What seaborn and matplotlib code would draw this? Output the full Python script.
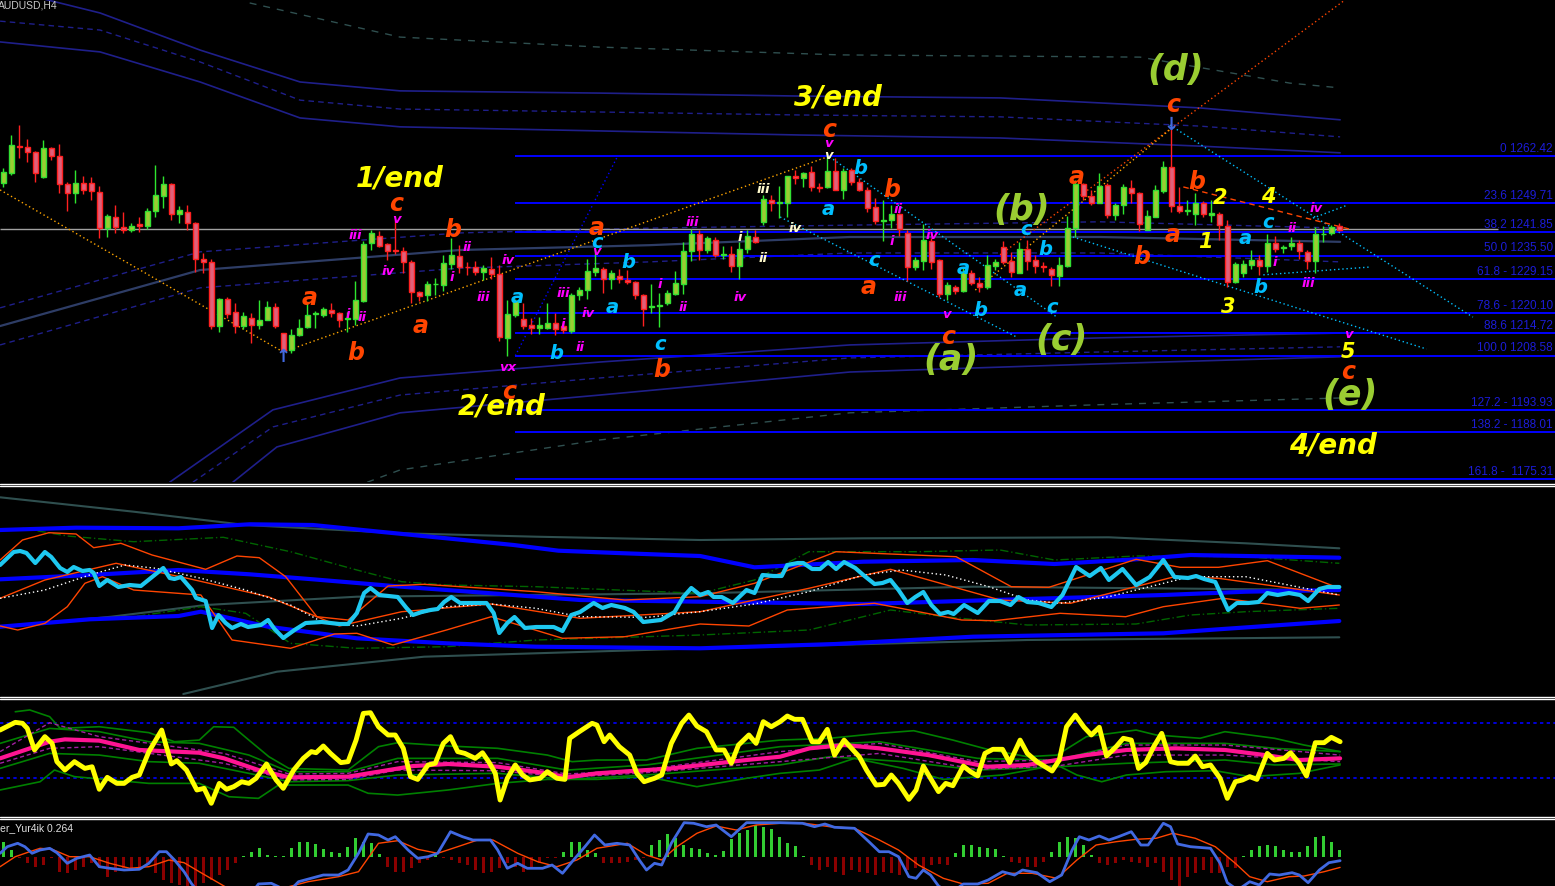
import numpy as np
import pandas as pd
import matplotlib.pyplot as plt
from matplotlib.lines import Line2D
import seaborn as sns

# Bougies AUDUSD H4
open_ = [1255.1, 1257.8, 1265.2, 1265.0, 1263.4, 1256.9, 1264.5, 1262.5, 1254.8, 1252.6,
         1255.2, 1255.2, 1252.8, 1243.1, 1246.1, 1243.4, 1242.4, 1244.0, 1243.6, 1247.7,
         1251.7, 1254.8, 1246.7, 1247.4, 1244.5, 1234.6, 1233.9, 1216.6, 1223.8, 1220.4,
         1216.6, 1218.9, 1217.0, 1218.3, 1221.6, 1214.6, 1210.2, 1214.1, 1216.4, 1219.8,
         1219.7, 1221.0, 1220.2, 1218.6, 1218.6, 1223.4, 1238.9, 1240.9, 1238.6, 1237.1,
         1236.8, 1233.9, 1225.8, 1224.9, 1227.8, 1227.6, 1233.3, 1235.4, 1232.6, 1232.4,
         1231.2, 1232.1, 1230.6, 1213.5, 1219.7, 1218.6, 1217.0, 1216.2, 1216.2, 1217.5,
         1216.5, 1215.3, 1225.1, 1226.3, 1231.2, 1232.1, 1229.3, 1230.0, 1229.1, 1228.5,
         1224.9, 1221.6, 1221.9, 1222.8, 1225.2, 1228.0, 1236.8, 1241.3, 1237.2, 1239.9,
         1235.8, 1235.9, 1232.8, 1237.5, 1240.7, 1244.7, 1250.6, 1249.8, 1249.7, 1257.0,
         1256.4, 1258.0, 1254.0, 1254.0, 1258.4, 1253.4, 1258.7, 1255.5, 1253.4, 1248.6,
         1245.0, 1245.3, 1246.7, 1241.7, 1232.4, 1234.0, 1239.5, 1234.4, 1225.2, 1227.0,
         1226.1, 1231.0, 1228.3, 1227.0, 1232.8, 1238.0, 1234.1, 1231.0, 1237.3, 1234.4,
         1232.9, 1232.1, 1230.1, 1232.8, 1242.9, 1254.9, 1251.6, 1249.9, 1254.6, 1246.5,
         1249.2, 1253.7, 1252.4, 1242.6, 1246.1, 1253.1, 1259.4, 1249.0, 1247.6, 1246.8,
         1249.8, 1246.5, 1246.8, 1243.6, 1228.5, 1231.0, 1233.0, 1234.4, 1232.8, 1239.1,
         1237.6, 1238.1, 1239.1, 1236.6, 1234.2, 1241.3, 1241.6, 1243.6]
high = [1259.1, 1268.1, 1270.8, 1267.0, 1263.8, 1266.8, 1265.0, 1265.6, 1255.5, 1258.7,
        1257.0, 1256.9, 1254.3, 1246.8, 1249.2, 1247.4, 1244.5, 1246.1, 1248.3, 1260.0,
        1257.0, 1255.1, 1249.0, 1249.2, 1244.7, 1236.2, 1234.6, 1224.2, 1224.5, 1222.9,
        1220.4, 1220.0, 1223.6, 1223.3, 1222.8, 1214.8, 1215.9, 1218.6, 1222.7, 1220.7,
        1221.8, 1222.7, 1220.4, 1220.4, 1228.7, 1239.5, 1242.5, 1242.3, 1238.9, 1245.2,
        1238.0, 1234.4, 1226.1, 1228.7, 1229.6, 1235.7, 1240.2, 1238.4, 1233.9, 1234.2,
        1233.0, 1235.3, 1233.0, 1223.6, 1224.0, 1222.7, 1218.9, 1219.0, 1222.7, 1220.0,
        1217.7, 1225.5, 1227.2, 1234.8, 1237.5, 1232.6, 1231.7, 1232.1, 1231.7, 1228.8,
        1225.3, 1227.9, 1225.5, 1226.3, 1231.5, 1239.3, 1242.7, 1242.5, 1241.0, 1240.5,
        1238.1, 1238.1, 1239.3, 1242.6, 1242.6, 1251.9, 1251.9, 1254.3, 1257.1, 1258.7,
        1258.0, 1259.7, 1255.2, 1263.3, 1261.8, 1259.1, 1259.1, 1256.6, 1254.2, 1251.0,
        1250.6, 1249.2, 1247.1, 1242.6, 1235.1, 1244.1, 1240.2, 1234.8, 1228.5, 1227.6,
        1232.6, 1231.7, 1229.9, 1235.7, 1234.8, 1239.5, 1236.6, 1239.3, 1239.8, 1235.7,
        1233.9, 1232.6, 1235.1, 1246.2, 1256.0, 1255.2, 1253.3, 1257.8, 1255.2, 1249.9,
        1254.9, 1256.1, 1252.8, 1248.0, 1254.6, 1261.2, 1271.3, 1254.2, 1250.7, 1252.4,
        1250.4, 1250.6, 1247.4, 1245.2, 1233.9, 1234.4, 1237.2, 1235.7, 1241.3, 1240.8,
        1238.4, 1240.7, 1239.8, 1237.1, 1243.4, 1243.5, 1243.8, 1244.3]
low = [1254.2, 1257.3, 1261.8, 1260.9, 1255.5, 1256.4, 1261.4, 1252.6, 1247.6, 1249.8,
       1252.1, 1250.7, 1240.4, 1240.7, 1241.8, 1241.8, 1242.0, 1242.0, 1242.7, 1246.1,
       1248.5, 1245.2, 1244.3, 1242.5, 1231.2, 1231.0, 1215.7, 1215.0, 1218.8, 1214.6,
       1215.9, 1211.9, 1215.9, 1218.2, 1216.1, 1209.6, 1209.4, 1213.9, 1216.2, 1216.2,
       1219.1, 1219.1, 1216.4, 1215.0, 1216.8, 1223.1, 1237.1, 1238.0, 1234.4, 1235.9,
       1230.8, 1222.7, 1223.4, 1223.3, 1224.9, 1226.1, 1232.1, 1230.8, 1230.3, 1230.3,
       1229.0, 1229.4, 1212.5, 1208.4, 1219.1, 1215.7, 1214.4, 1214.4, 1215.7, 1214.3,
       1214.6, 1214.6, 1223.5, 1224.0, 1230.0, 1225.4, 1226.7, 1228.2, 1227.9, 1224.0,
       1216.6, 1220.0, 1216.4, 1222.2, 1224.9, 1225.3, 1234.2, 1234.5, 1236.3, 1235.3,
       1234.8, 1231.2, 1229.2, 1236.3, 1239.0, 1243.8, 1247.6, 1245.6, 1245.9, 1254.9,
       1254.2, 1253.0, 1252.8, 1253.7, 1253.3, 1250.8, 1254.6, 1253.0, 1247.4, 1244.0,
       1239.5, 1242.9, 1240.8, 1228.8, 1231.8, 1231.8, 1232.1, 1224.3, 1223.7, 1225.2,
       1225.8, 1227.6, 1225.8, 1226.7, 1231.7, 1233.3, 1229.9, 1230.8, 1231.7, 1230.8,
       1231.2, 1227.3, 1227.4, 1232.6, 1240.7, 1250.7, 1249.2, 1249.7, 1245.6, 1245.3,
       1246.8, 1249.8, 1242.3, 1242.5, 1245.9, 1252.6, 1247.4, 1247.0, 1246.5, 1243.8,
       1245.9, 1244.7, 1239.9, 1227.2, 1228.1, 1229.7, 1232.1, 1230.3, 1231.2, 1236.6,
       1236.2, 1237.2, 1234.8, 1232.1, 1230.9, 1239.3, 1241.1, 1242.3]
close = [1258.0, 1265.4, 1265.0, 1263.4, 1257.8, 1264.5, 1262.5, 1254.8, 1252.4, 1255.2,
         1253.2, 1253.0, 1243.1, 1246.2, 1243.2, 1242.5, 1243.5, 1243.7, 1247.7, 1251.8,
         1254.8, 1246.7, 1248.0, 1244.5, 1234.8, 1233.9, 1216.6, 1223.8, 1219.8, 1216.6,
         1219.2, 1217.0, 1218.3, 1221.6, 1216.5, 1210.2, 1214.3, 1216.2, 1219.7, 1220.0,
         1221.3, 1220.2, 1218.3, 1218.8, 1223.6, 1238.6, 1241.8, 1238.2, 1236.9, 1236.8,
         1233.9, 1225.8, 1224.7, 1227.9, 1228.0, 1233.5, 1235.7, 1232.6, 1232.4, 1231.2,
         1232.3, 1230.6, 1213.7, 1219.8, 1223.3, 1216.6, 1216.2, 1216.8, 1217.5, 1215.7,
         1215.5, 1225.1, 1226.2, 1231.4, 1232.3, 1229.3, 1231.0, 1229.2, 1228.5, 1224.9,
         1221.3, 1221.9, 1222.2, 1225.4, 1228.3, 1236.8, 1241.3, 1237.2, 1240.2, 1235.7,
         1235.9, 1232.9, 1237.5, 1240.8, 1239.3, 1250.8, 1249.7, 1250.0, 1257.0, 1256.4,
         1257.8, 1254.0, 1253.8, 1258.4, 1253.4, 1258.4, 1255.3, 1253.4, 1248.3, 1245.0,
         1245.2, 1246.7, 1242.7, 1232.4, 1234.4, 1239.8, 1233.9, 1225.2, 1227.6, 1226.1,
         1231.2, 1228.2, 1227.0, 1233.0, 1233.8, 1233.9, 1231.2, 1237.3, 1234.2, 1232.8,
         1232.4, 1230.3, 1233.0, 1242.9, 1254.9, 1251.7, 1249.9, 1254.3, 1246.5, 1249.2,
         1254.0, 1252.4, 1244.1, 1246.2, 1253.3, 1259.4, 1249.0, 1247.7, 1247.8, 1249.9,
         1246.8, 1247.1, 1243.8, 1228.5, 1233.2, 1233.3, 1234.4, 1232.8, 1239.1, 1237.5,
         1237.8, 1239.1, 1236.9, 1234.2, 1241.3, 1241.5, 1243.2, 1242.6]

# Niveaux de Fibonacci
fib_levels = [1262.42, 1249.71, 1241.85, 1235.50, 1229.15, 1220.10, 1214.72,
              1208.58, 1193.93, 1188.01, 1175.31]
fib_labels = ['0 1262.42', '23.6 1249.71', '38.2 1241.85', '50.0 1235.50',
              '61.8 - 1229.15', '78.6 - 1220.10', '88.6 1214.72', '100.0 1208.58',
              '127.2 - 1193.93', '138.2 - 1188.01', '161.8 -  1175.31']
fib_start = 64
bid_price = 1242.7

# Enveloppes de moyennes mobiles (barre, prix)
env_top_x = [-0.4, 12.1, 24.6, 37.1, 49.6, 74.6, 99.6, 124.6, 149.6, 167.1]
env_top1 = [1307.7, 1301.0, 1291.0, 1282.4, 1280.0, 1279.4, 1278.6, 1278.1, 1275.4, 1272.2]
env_top2 = [1298.8, 1296.4, 1287.8, 1277.5, 1275.1, 1274.3, 1273.5, 1273.0, 1270.5, 1267.6]
env_top3 = [1293.2, 1290.5, 1282.4, 1272.7, 1270.3, 1269.2, 1268.1, 1267.3, 1265.1, 1263.3]
env_grey_x = [30.8, 49.6, 74.6, 104.6, 142.1, 160.8, 167.1]
env_grey = [1303.7, 1294.5, 1291.8, 1289.7, 1289.1, 1282.1, 1280.8]
env_mid_x = [-0.4, 24.6, 57.1, 80.8, 105.8, 137.1, 167.1]
env_mid_up = [1221.5, 1236.6, 1241.7, 1243.0, 1243.8, 1244.7, 1243.0]
env_mid = [1216.6, 1231.7, 1237.1, 1238.4, 1240.6, 1240.6, 1239.3]
env_mid_dn = [1211.5, 1226.9, 1232.2, 1233.9, 1236.3, 1236.3, 1233.9]
env_low_a_x = [20.8, 33.7, 49.6, 74.6, 105.8, 137.1, 167.1]
env_low_a = [1174.5, 1194.0, 1202.6, 1206.9, 1211.5, 1213.4, 1214.7]
env_low_b_x = [23.7, 33.7, 49.6, 74.6, 105.8, 137.1, 167.1]
env_low_b = [1174.5, 1189.4, 1198.0, 1202.6, 1208.0, 1209.6, 1211.0]
env_low_c_x = [28.7, 34.2, 49.6, 74.6, 105.8, 137.1, 167.1]
env_low_c = [1174.5, 1184.0, 1193.2, 1198.0, 1204.2, 1206.4, 1208.3]
env_low_g_x = [45.5, 49.6, 74.6, 105.8, 137.1, 167.1]
env_low_g = [1174.5, 1177.8, 1185.9, 1193.2, 1195.4, 1197.2]

# Lignes de tendance (x0, x1), (prix0, prix1)
trend_orange = ([-0.4, 35.0, 103.0], [1253.3, 1209.6, 1262.2])
trend_cyan = [((103.3, 131.7), (1262.2, 1219.0)), ((97.1, 126.7), (1246.0, 1213.6)),
              ((133.7, 177.9), (1240.6, 1210.4)), ((145.8, 183.7), (1270.8, 1219.0)),
              ((157.5, 170.8), (1230.4, 1232.5)), ((163.7, 168.0), (1245.7, 1249.2))]
trend_red = ((124.6, 167.7), (1235.8, 1304.5))
trend_orange2 = ((121.5, 145.8), (1226.3, 1269.5))
trend_red_dash = ((147.5, 168.7), (1254.1, 1242.5))
fib_diag = ((64.0, 76.8), (1208.58, 1262.42))

# Etiquettes Elliott (texte, barre, prix)
lbl_yellow = [('1/end', 49.5, 1256.5), ('2/end', 62.3, 1195.0), ('3/end', 104.3, 1278.3),
              ('4/end', 166.2, 1184.3)]
lbl_green = [('(d)', 146.5, 1285.6), ('(b)', 127.3, 1247.9), ('(a)', 118.5, 1207.4),
             ('(c)', 132.3, 1212.8), ('(e)', 168.3, 1198.0)]
lbl_orange = [('c', 49.1, 1249.4), ('a', 38.3, 1224.2), ('b', 44.1, 1209.3), ('b', 56.2, 1242.5),
              ('a', 52.2, 1216.6), ('c', 63.2, 1198.8), ('a', 74.2, 1243.0), ('b', 82.3, 1204.7),
              ('c', 103.2, 1269.4), ('b', 111.1, 1253.3), ('a', 108.1, 1227.1), ('c', 118.1, 1213.6),
              ('a', 134.2, 1256.8), ('c', 146.2, 1276.2), ('b', 149.2, 1255.4), ('a', 146.2, 1241.1),
              ('b', 142.3, 1235.2), ('c', 168.1, 1204.2)]
lbl_cyan = [('a', 64.2, 1224.4), ('c', 74.2, 1239.0), ('b', 78.1, 1233.6), ('a', 76.1, 1221.5),
            ('b', 69.2, 1209.3), ('c', 82.1, 1211.5), ('b', 107.1, 1259.2), ('a', 103.1, 1247.9),
            ('c', 108.9, 1234.4), ('a', 120.0, 1232.2), ('b', 122.1, 1220.9), ('c', 127.9, 1242.5),
            ('b', 130.2, 1237.1), ('a', 127.1, 1226.3), ('c', 131.1, 1221.5), ('a', 155.2, 1240.3),
            ('c', 158.1, 1244.6), ('b', 157.1, 1226.9)]
lbl_magenta = [('iii', 44.0, 1240.9), ('iv', 48.1, 1231.2), ('v', 49.2, 1245.4), ('ii', 44.8, 1219.0),
               ('i', 43.1, 1219.6), ('ii', 58.0, 1237.9), ('i', 56.1, 1229.6), ('iii', 60.0, 1224.2),
               ('iv', 63.1, 1234.4), ('vx', 63.1, 1205.3), ('iii', 70.0, 1225.5), ('iv', 73.1, 1220.1),
               ('i', 70.0, 1216.9), ('ii', 72.1, 1210.9), ('v', 74.2, 1236.6), ('iii', 86.1, 1244.6),
               ('i', 82.1, 1227.7), ('ii', 85.0, 1221.5), ('iv', 92.1, 1224.4), ('v', 103.1, 1265.9),
               ('ii', 111.8, 1247.9), ('i', 111.1, 1239.3), ('iii', 112.1, 1224.4), ('iv', 116.1, 1241.1),
               ('v', 117.9, 1219.6), ('ii', 161.1, 1243.0), ('i', 158.9, 1233.6), ('iii', 163.1, 1228.2),
               ('iv', 164.1, 1248.2), ('v', 168.1, 1214.2)]
lbl_white = [('iii', 95.0, 1253.3), ('iv', 99.0, 1243.0), ('i', 92.1, 1240.6), ('ii', 95.0, 1234.9),
             ('v', 103.1, 1262.5)]
lbl_numbers = [('1', 150.2, 1239.3), ('2', 152.1, 1251.1), ('3', 153.1, 1221.7), ('4', 158.1, 1251.4),
               ('5', 168.1, 1209.6)]
arrow_up = (35.0, 1208.3)
arrow_dn = (146.0, 1270.8)

# Indicateur 1 (fenetre 2)
p2_cyan_x = [-0.4, 1.3, 2.1, 2.9, 4.0, 5.2, 6.0, 7.1, 8.0, 8.8, 9.9, 10.8, 11.3, 12.0, 13.0, 14.4,
             15.8, 17.2, 18.6, 20.0, 20.8, 21.4, 22.2, 23.6, 24.1, 25.3, 26.1, 26.9, 27.8, 28.6,
             29.7, 30.6, 31.4, 32.2, 33.1, 33.9, 35.0, 36.4, 37.8, 39.8, 42.0, 43.1, 44.2, 45.1,
             45.9, 47.0, 49.3, 50.4, 51.2, 52.3, 53.4, 54.3, 55.1, 56.0, 57.1, 58.7, 60.4, 61.3,
             62.0, 63.0, 63.9, 65.2, 66.6, 67.7, 68.8, 69.9, 71.0, 72.1, 73.8, 74.9, 76.0, 77.7,
             78.8, 80.0, 82.2, 83.9, 85.0, 86.0, 87.1, 88.1, 88.8, 89.8, 91.2, 92.9, 93.9, 94.9,
             96.3, 97.3, 98.0, 99.3, 100.0, 101.1, 102.1, 103.1, 104.1, 105.1, 106.5, 107.5, 108.9,
             109.9, 110.9, 111.9, 113.0, 114.0, 115.0, 116.0, 117.1, 118.1, 118.8, 120.1, 121.8,
             123.2, 124.6, 125.9, 126.9, 128.0, 129.4, 131.0, 132.4, 134.1, 135.8, 137.2, 138.2,
             139.9, 141.6, 143.3, 145.0, 146.4, 148.1, 149.1, 150.1, 151.5, 153.1, 154.2, 155.6,
             156.9, 158.0, 159.3, 160.7, 162.1, 163.1, 164.5, 165.5, 167.0]
p2_cyan = [130, 143, 144, 142, 132, 143, 138, 127, 123, 128, 124, 125, 122, 109, 115, 108, 110, 109,
           118, 127, 117, 116, 118, 105, 97, 94, 67, 80, 72, 67, 71, 68, 69, 70, 75, 66, 57, 65, 72, 73,
           71, 71, 82, 102, 107, 100, 98, 87, 80, 83, 85, 86, 93, 98, 92, 92, 92, 82, 62, 72, 78, 67,
           68, 68, 68, 64, 80, 83, 92, 87, 90, 87, 83, 73, 75, 83, 98, 107, 100, 103, 98, 98, 92, 105,
           102, 120, 119, 119, 130, 132, 132, 126, 126, 133, 126, 133, 127, 120, 111, 112, 115, 105,
           92, 98, 103, 90, 81, 83, 81, 90, 82, 94, 94, 90, 98, 93, 92, 88, 100, 128, 119, 127, 115,
           126, 110, 118, 135, 118, 117, 119, 116, 113, 85, 92, 92, 93, 102, 100, 102, 100, 94, 106,
           108, 108]
p2_blue_up_x = [-0.4, 9.1, 21.9, 30.8, 38.7, 47.0, 55.4, 63.8, 69.4, 77.7, 87.1, 93.9, 107.5, 121.2,
                131.4, 141.6, 148.4, 155.3, 167.0]
p2_blue_up = [165, 167.3, 166.7, 170.7, 170, 163.3, 156.7, 150, 144.3, 141.7, 139, 127.7, 133.3, 135,
              131, 135.7, 140, 139, 137.3]
p2_blue_mid_x = [-0.4, 10.8, 21.9, 30.8, 38.7, 49.8, 61.0, 72.1, 87.1, 107.5, 128.0, 145.0, 155.3, 167.0]
p2_blue_mid = [115.7, 120, 125, 120.7, 115.7, 108.3, 101.7, 95, 93.3, 91, 96, 100, 103.3, 105]
p2_blue_dn_x = [-0.4, 10.8, 21.9, 24.7, 33.1, 44.2, 55.4, 66.6, 87.1, 104.1, 121.2, 145.0, 151.9, 167.0]
p2_blue_dn = [68.3, 75.7, 79, 83.3, 68.3, 56.7, 51.7, 48.3, 46.7, 51, 58.3, 61.7, 65.7, 74]
p2_grey_up_x = [-0.4, 16.3, 30.3, 49.8, 66.6, 87.1, 107.5, 138.2, 155.3, 167.0]
p2_grey_up = [197.7, 183.3, 170, 161.7, 158.3, 155, 156.7, 157.7, 151.7, 146.7]
p2_grey_mid_x = [-0.4, 13.5, 25.3, 44.2, 87.1, 121.2, 167.0]
p2_grey_mid = [67.7, 78.3, 90, 98.3, 101.7, 108.3, 105]
p2_grey_dn_x = [22.5, 34.2, 52.6, 87.1, 128.0, 167.0]
p2_grey_dn = [1, 23.3, 38.3, 46.7, 55, 57.7]
p2_or_mid_x = [-0.4, 5.2, 14.1, 23.0, 33.1, 42.0, 49.8, 61.0, 72.1, 87.1, 100.7, 110.9, 124.6, 133.4,
               146.4, 151.9, 167.0]
p2_or_mid = [96.7, 115, 131.7, 116.7, 98.3, 69, 83.3, 91, 76.7, 83.3, 106.7, 125.7, 95, 91.7, 118.3,
             116.7, 100]
p2_or_up_x = [-0.4, 2.4, 5.7, 9.1, 11.3, 14.7, 18.6, 25.3, 29.2, 32.0, 35.3, 39.2, 43.1, 48.1, 52.6,
              66.6, 77.7, 87.1, 93.9, 104.1, 110.9, 119.1, 126.0, 130.7, 141.6, 147.1, 151.9, 158.0, 167.0]
p2_or_up = [135, 155, 162.3, 161, 147.3, 151.7, 140, 125.7, 139, 137.3, 118.3, 78.3, 75, 109, 110.7,
            103.3, 95, 98.3, 111.7, 143.3, 141, 138.3, 108.3, 107.7, 135.7, 127.7, 127.7, 134.3, 106.7]
p2_or_dn_x = [-0.4, 1.8, 5.2, 8.0, 10.2, 12.4, 16.3, 24.7, 28.6, 35.9, 41.4, 44.2, 48.7, 55.4, 61.0,
              69.9, 77.7, 87.1, 93.2, 98.0, 108.9, 119.8, 123.9, 132.1, 140.3, 145.0, 152.5, 162.1, 167.0]
p2_or_dn = [69, 65, 71.7, 88.3, 111.7, 118.3, 105, 100, 55, 46.7, 61, 61.7, 50, 65, 78.3, 56.7, 58.3,
            71, 69, 85, 91.7, 75, 74.3, 81.7, 78.3, 88.3, 96.7, 86.7, 90]
p2_white_x = [-0.4, 5.2, 10.8, 15.2, 19.1, 24.7, 30.3, 35.9, 39.8, 44.2, 49.8, 55.4, 61.0, 66.6, 72.1,
              80.5, 87.1, 93.9, 100.7, 107.5, 112.3, 117.8, 123.2, 128.0, 132.1, 138.2, 145.0, 148.4,
              155.3, 162.1, 167.0]
p2_white = [96.7, 105, 120, 130, 126.7, 116.7, 105, 90, 73.3, 69, 76.7, 88.3, 91, 86.7, 78.3, 77.7,
            83.3, 91, 103.3, 120, 125, 120, 108.3, 95, 91.7, 98.3, 111.7, 118.3, 118.3, 107.7, 100]
p2_green_up_x = [2.4, 8.0, 16.3, 27.5, 35.9, 44.2, 49.8, 55.4, 66.6, 87.1, 93.9, 100.7, 114.4, 124.6,
                 131.4, 141.6, 155.3, 167.0]
p2_green_up = [166.7, 159, 153.3, 157.7, 143.3, 125, 113.3, 110, 108.3, 101.7, 115, 143.3, 143.3, 145,
               135, 139, 138.3, 131.7]
p2_green_dn_x = [-0.4, 5.2, 16.3, 24.7, 30.3, 35.9, 44.2, 55.4, 66.6, 87.1, 100.7, 110.9, 117.8, 128.0,
                 141.6, 148.4, 155.3, 167.0]
p2_green_dn = [68.3, 71.7, 78.3, 88.3, 81.7, 51.7, 46.7, 48.3, 55, 60, 65, 85, 78.3, 70, 71, 80, 83.3,
               86.7]

# Indicateur 2 (fenetre 3, type RSI)
p3_levels = [70, 30]
p3_yellow_x = [-0.4, 1.5, 2.4, 3.0, 3.9, 5.2, 6.1, 6.7, 7.7, 8.9, 10.2, 11.1, 12.0, 13.0, 14.2, 15.1,
               16.1, 17.0, 18.2, 19.8, 21.0, 21.7, 22.9, 24.2, 25.1, 26.0, 27.0, 27.9, 28.8, 29.8,
               30.7, 31.6, 32.9, 34.1, 35.0, 36.3, 37.5, 38.5, 39.1, 40.0, 40.9, 42.2, 43.1, 44.1,
               45.0, 45.9, 46.9, 48.1, 49.0, 50.0, 50.9, 51.8, 53.1, 54.0, 55.0, 55.9, 56.8, 57.7,
               59.0, 59.9, 60.8, 61.5, 62.1, 63.0, 64.0, 64.9, 65.8, 67.1, 68.0, 69.2, 70.2, 70.8,
               72.0, 73.6, 74.2, 75.1, 75.8, 77.0, 78.3, 79.2, 80.1, 81.4, 82.3, 83.5, 84.8, 85.7,
               86.7, 87.9, 89.1, 90.1, 91.0, 91.9, 93.2, 94.1, 95.0, 96.0, 97.1, 98.0, 98.9, 99.9,
               101.1, 102.0, 103.0, 103.9, 105.1, 106.4, 107.0, 107.9, 109.1, 110.1, 111.0, 111.9,
               113.2, 114.1, 115.0, 115.9, 116.9, 117.8, 118.7, 120.0, 120.9, 121.8, 122.7, 123.7,
               124.9, 125.8, 127.1, 128.0, 129.2, 131.1, 132.0, 132.9, 134.0, 135.1, 136.0, 137.0,
               137.9, 139.1, 140.0, 141.0, 141.9, 142.8, 143.8, 144.8, 145.9, 146.8, 148.1, 149.0,
               149.9, 150.9, 152.1, 153.0, 154.0, 154.9, 155.8, 156.7, 158.0, 158.9, 160.1, 160.9,
               162.0, 162.9, 164.0, 165.1, 166.0, 167.1]
p3_yellow = [65.1, 70.7, 70.0, 66.3, 50.6, 60.3, 55.4, 42.1, 36.0, 42.1, 37.2, 38.4, 22.0, 30.7, 26.3,
             26.3, 30.7, 32.4, 49.4, 65.1, 40.4, 42.8, 36.0, 21.5, 22.7, 11.8, 26.3, 22.0, 23.9, 27.5,
             26.3, 30.0, 40.4, 28.8, 22.7, 36.0, 44.5, 49.4, 48.6, 53.5, 48.1, 41.4, 42.1, 57.8, 77.2,
             77.7, 67.5, 61.5, 61.5, 51.8, 31.2, 29.2, 39.7, 40.9, 55.4, 60.3, 49.4, 48.1, 44.5, 48.6,
             40.9, 33.6, 14.2, 30.0, 39.7, 32.4, 28.8, 30.0, 34.8, 30.0, 29.2, 59.1, 63.9, 70.0, 68.7,
             56.6, 61.5, 53.0, 46.9, 33.6, 27.5, 30.0, 32.4, 55.4, 70.0, 76.0, 68.0, 63.9, 50.6, 50.6,
             40.9, 54.2, 61.5, 55.4, 71.2, 67.5, 71.2, 75.3, 72.9, 72.9, 56.6, 56.6, 65.6, 46.9, 57.8,
             49.4, 45.7, 36.0, 25.1, 25.6, 32.4, 26.3, 14.7, 21.5, 38.9, 30.0, 20.3, 26.3, 24.6, 38.9,
             34.8, 31.7, 48.1, 51.1, 51.1, 41.4, 57.8, 48.1, 42.1, 35.3, 43.3, 67.5, 76.0, 67.1, 61.5,
             67.1, 46.2, 53.0, 59.1, 57.8, 37.2, 41.4, 53.0, 62.7, 42.1, 40.9, 40.9, 46.2, 38.4, 39.7,
             30.0, 15.4, 27.5, 28.8, 31.2, 29.2, 48.1, 43.3, 44.5, 48.6, 40.9, 31.7, 55.9, 55.9, 59.8,
             56.6]
p3_pink_x = [-0.4, 5.8, 7.7, 12.0, 17.0, 24.5, 27.6, 31.9, 35.7, 43.1, 46.9, 51.2, 55.6, 61.8, 68.0,
             70.5, 74.2, 83.5, 92.9, 97.1, 100.8, 105.1, 109.5, 115.6, 123.0, 128.0, 135.4, 140.4,
             146.5, 152.7, 157.7, 162.0, 167.1]
p3_pink = [44.5, 56.6, 58.3, 57.4, 50.6, 48.6, 44.5, 36.0, 30.7, 31.2, 34.8, 38.9, 40.4, 38.4, 33.6,
           30.7, 33.6, 37.2, 43.3, 45.7, 51.8, 54.2, 51.8, 46.9, 38.4, 39.7, 46.9, 50.6, 51.8, 50.6,
           46.9, 43.3, 44.5]
p3_gup_x = [1.5, 3.3, 5.8, 7.1, 12.0, 18.2, 21.4, 24.5, 26.3, 28.8, 30.7, 33.2, 35.7, 43.1, 46.9, 49.3,
            55.6, 61.8, 68.0, 71.1, 74.2, 80.4, 86.7, 92.9, 97.1, 103.3, 109.5, 113.8, 118.7, 123.0,
            128.0, 131.7, 135.4, 141.6, 144.1, 149.6, 152.7, 158.9, 162.6, 167.1]
p3_gup = [78.4, 79.7, 74.8, 66.3, 67.5, 63.2, 56.6, 57.8, 67.5, 67.1, 57.8, 45.7, 37.2, 36.0, 53.0,
          55.9, 53.5, 51.8, 46.9, 42.1, 43.3, 43.3, 51.8, 55.4, 57.8, 59.1, 62.7, 64.6, 57.8, 51.1,
          45.7, 46.9, 60.3, 65.1, 61.5, 59.1, 63.9, 59.1, 54.2, 49.4]
p3_gdn_x = [-0.4, 4.6, 6.4, 8.9, 18.2, 24.5, 28.2, 31.9, 34.4, 43.1, 45.6, 49.3, 55.6, 61.8, 68.0,
            74.2, 80.4, 86.7, 92.9, 97.1, 102.0, 106.4, 112.5, 117.5, 124.9, 131.7, 134.2, 137.3,
            140.4, 145.3, 151.5, 155.8, 162.0, 167.1]
p3_gdn = [21.5, 27.5, 36.0, 31.2, 26.3, 26.3, 16.6, 15.4, 25.1, 25.1, 19.1, 17.8, 21.5, 26.3, 29.2,
          29.2, 31.2, 23.9, 30.0, 33.6, 36.0, 44.5, 37.2, 29.2, 32.4, 39.7, 32.4, 27.5, 32.4, 34.8,
          35.5, 31.2, 33.6, 39.7]
p3_gin_up_x = [-0.4, 5.8, 12.0, 18.2, 24.5, 30.7, 35.7, 43.1, 49.3, 61.8, 70.5, 80.4, 97.1, 109.5,
               121.8, 131.7, 140.4, 152.7, 158.9, 167.1]
p3_gin_up = [55.4, 66.3, 63.9, 56.6, 55.4, 46.9, 34.8, 34.8, 44.5, 44.5, 36.0, 39.7, 53.0, 56.6, 44.5,
             43.3, 55.4, 55.4, 51.8, 49.4]
p3_gin_dn_x = [-0.4, 5.8, 12.0, 18.2, 24.5, 30.7, 35.7, 43.1, 49.3, 61.8, 70.5, 80.4, 97.1, 103.3,
               112.5, 121.8, 131.7, 140.4, 152.7, 158.9, 167.1]
p3_gin_dn = [37.2, 48.1, 46.9, 42.1, 40.9, 33.6, 27.5, 28.3, 32.4, 33.6, 29.2, 32.4, 39.7, 45.7, 42.1,
             36.0, 38.4, 40.9, 43.3, 39.7, 40.4]
p3_mag_x = [-0.4, 5.8, 12.0, 21.4, 27.6, 35.7, 43.1, 49.3, 61.8, 70.5, 80.4, 97.1, 109.5, 121.8, 131.7,
            140.4, 152.7, 167.1]
p3_mag_up = [49.4, 70.4, 60.3, 53.0, 48.1, 33.1, 33.6, 42.1, 41.4, 33.1, 36.5, 49.4, 55.4, 42.1, 43.3,
             54.2, 54.2, 46.9]
p3_mag_dn = [40.9, 51.8, 53.0, 45.7, 40.9, 28.8, 29.2, 36.0, 35.5, 30.7, 34.1, 42.1, 48.1, 36.5, 38.9,
             46.9, 46.9, 42.1]

# Indicateur 3 (fenetre 4, histogramme + lignes)
p4_hist = [15, 6.7, -1.7, -6, -10, -8.3, -1.7, -15, -16, -13.3,
           -10, -6.7, -11.7, -20, -15, -11.7, -13.3, -11.7, -6.7, -16.7,
           -23.3, -26.7, -28.3, -29.3, -29.3, -26.7, -23.3, -18.3, -13.3, -6.7,
           0.7, 5, 8.3, 1.7, 0.7, 0.7, 8.3, 15, 15, 12.7,
           7.3, 5, 3.3, 10, 18.3, 15, 13.3, 2.7, -10, -15,
           -15, -11.7, -6.7, -3.3, 2.7, -1.7, -3.3, -6.7, -8.3, -13.3,
           -16, -15, -11.7, -6.7, -10, -15, -10, -6.7, -1.7, -1,
           5, 15, 15, 6.7, 3.3, -6.7, -6.7, -6.7, -5, -3.3,
           -1.7, 11.7, 16.7, 22.7, 18.3, 11.7, 8.3, 7.3, 3.3, 1.7,
           6, 17.3, 23.3, 26.7, 31.7, 30, 27.3, 20, 14, 10.7,
           0.5, -8.3, -13.3, -10, -15, -18.3, -13.3, -15, -16.7, -18.3,
           -15, -16.7, -18.3, -13.3, -11.7, -13.3, -8.3, -7.3, -8.3, 3.3,
           11.7, 11.7, 10, 8.3, 7.3, 0.7, -5, -6.7, -10, -10,
           -5, 5, 15, 20, 18.3, 11.7, 1.7, -6.7, -8.3, -6.7,
           -3.3, -5, -6.7, -10, -6.7, -15, -23.3, -29.3, -20, -16.7,
           -13.3, -16.7, -16.7, -10, -11.7, 0.3, 6.7, 10.7, 11.7, 10.7,
           6.7, 5, 5, 10.7, 19.3, 20.7, 15, 6.7]
p4_blue_x = [-0.4, 0.5, 1.8, 2.7, 3.6, 4.6, 5.8, 6.7, 8.0, 9.2, 10.8, 12.0, 13.3, 15.1, 17.0, 18.2,
             19.5, 20.4, 21.4, 22.6, 23.5, 24.5, 27.0, 30.7, 31.9, 33.5, 34.4, 35.7, 36.9, 40.0, 41.9,
             43.1, 44.4, 45.6, 46.9, 48.1, 49.0, 50.6, 51.8, 53.1, 54.3, 55.9, 57.4, 58.7, 60.9, 61.8,
             63.0, 64.3, 65.5, 67.4, 68.6, 69.9, 71.1, 72.7, 73.9, 75.2, 76.7, 78.3, 79.5, 80.4, 81.4,
             82.3, 83.5, 85.1, 86.3, 87.9, 89.1, 91.0, 92.9, 97.1, 99.9, 101.4, 102.7, 103.9, 106.4,
             108.2, 109.5, 110.7, 111.9, 113.2, 114.1, 115.0, 115.9, 116.9, 118.4, 120.0, 121.8,
             123.1, 124.9, 126.4, 127.4, 129.2, 130.8, 132.3, 133.6, 134.5, 135.7, 137.0, 138.2,
             139.4, 141.0, 142.2, 143.1, 145.0, 145.9, 146.8, 148.4, 150.9, 152.1, 153.0, 154.3,
             155.8, 157.0, 158.3, 159.5, 161.1, 162.0, 163.1, 164.5, 165.7, 167.1]
p4_blue = [3.4, 10, 13.4, 10, 3.4, 6.7, 8.4, 4.0, -6.6, -1.6, 1.7, -10, -11.6, -13.3, -12.6, -6.6, 5.0,
           5.0, -3.3, -15, -26.6, -36.6, -46.6, -40, -27.3, -26.6, -30, -35, -25, -18.3, -18.3, -13.3,
           3.4, 22.7, 21.7, 16.7, 20, 6.7, -1.6, 0, 3.4, 25, 20, 16.7, 16.7, 6.7, -11.6, -6.6, -11.6,
           -11.6, -8.3, -16.6, -5, 10, 21.7, 11.7, 13.4, 11.7, -3.3, -13.3, -6.6, -8.3, 13.4, 34, 33.4,
           30, 31.7, 20, 34, 34, 33.4, 30, 32.7, 29.4, 28.4, 15, 5, 5, 0, -20, -21.6, -13.3, -18.3,
           -29.3, -36.6, -27.3, -27.3, -23.3, -15, -18.3, -13.3, -16, -25, -18.3, 6.7, 20, 16.7, 20.7,
           16.7, 20, 25, 11.7, 11.7, 33.4, 30, 12.7, 10, 8.4, -6.6, -26, -33.3, -25, -28.3, -17.3,
           -18.3, -16, -18.3, -26, -13.3, -6, -4]
p4_orange_x = [-0.4, 1.5, 3.3, 4.6, 6.1, 8.3, 10.8, 13.3, 15.8, 18.2, 20.7, 22.6, 24.5, 27.0, 28.8,
               35.7, 38.1, 41.9, 44.4, 46.9, 49.3, 51.8, 54.3, 56.8, 59.3, 61.2, 64.3, 66.8, 69.2,
               71.7, 74.2, 78.0, 80.4, 82.3, 84.2, 86.7, 89.1, 91.6, 94.1, 97.1, 100.2, 103.3, 106.4,
               109.5, 111.9, 114.4, 117.5, 120.0, 123.1, 125.5, 128.6, 131.7, 134.2, 136.6, 139.1,
               141.6, 144.1, 146.2, 149.0, 151.5, 154.0, 155.8, 158.0, 160.7, 162.6, 165.1, 167.1]
p4_orange = [-10, 0, 5, 8.4, 7.4, 0, 0, -6.6, -11.6, -10, -3.3, -6, -15, -26.6, -35, -30, -25, -20,
             -15, 13.4, 16, 7.4, 3.4, 10, 16.7, 16.7, 3.4, -5, -10, -3.3, 8.4, 13.4, 1.7, -3.3, 10,
             23.4, 30.7, 26.7, 31.7, 33.4, 33.4, 30, 28.4, 16.7, 6.7, -8.3, -21.6, -27.3, -26.6,
             -16.6, -16.6, -21.6, -3.3, 11.7, 15, 17.4, 18.4, 23.4, 18.4, 10, -6.6, -20, -25, -20,
             -19.3, -15, -10.7]

# Style general : fond noir facon MetaTrader
sns.set_theme(style="dark", rc={"axes.facecolor": "black", "figure.facecolor": "black",
                                "savefig.facecolor": "black", "axes.grid": False})
plt.rcParams['font.family'] = ['DejaVu Sans']

fig = plt.figure(figsize=(15.55, 8.86), dpi=100)
H = 886.0
XLIM = (-0.41, 193.96)


def add_panel(top, bottom, ylim):
    ax = fig.add_axes([0, 1 - bottom / H, 1, (bottom - top) / H])
    ax.set_facecolor('black')
    ax.set_xlim(*XLIM)
    ax.set_ylim(*ylim)
    ax.set_xticks([])
    ax.set_yticks([])
    for s in ax.spines.values():
        s.set_visible(False)
    return ax


def trace(ax, x, y, color, lw=1.0, ls='-', z=2):
    sns.lineplot(x=x, y=y, ax=ax, color=color, linewidth=lw, linestyle=ls,
                 estimator=None, sort=False, zorder=z)


ax1 = add_panel(0, 482, (1174.55, 1304.5))
ax2 = add_panel(487, 695, (0, 208))
ax3 = add_panel(699, 816, (2.58, 87.67))
ax4 = add_panel(820, 886, (-29.3, 36.7))

# ---- Fenetre principale ----
navy = '#1f1f8a'
trace(ax1, env_top_x, env_top1, navy, 1.2)
trace(ax1, env_top_x, env_top2, navy, 1.0, (0, (4, 3)))
trace(ax1, env_top_x, env_top3, navy, 1.2)
trace(ax1, env_grey_x, env_grey, '#2f4f4f', 1.0, (0, (5, 5)))
trace(ax1, env_mid_x, env_mid_up, navy, 1.0, (0, (4, 3)))
trace(ax1, env_mid_x, env_mid, '#2e3d66', 1.6)
trace(ax1, env_mid_x, env_mid_dn, navy, 1.0, (0, (4, 3)))
trace(ax1, env_low_a_x, env_low_a, navy, 1.2)
trace(ax1, env_low_b_x, env_low_b, navy, 1.0, (0, (4, 3)))
trace(ax1, env_low_c_x, env_low_c, navy, 1.2)
trace(ax1, env_low_g_x, env_low_g, '#2f4f4f', 1.0, (0, (5, 5)))

ax1.hlines(fib_levels, fib_start, XLIM[1], colors='#0000ff', linewidth=1.4, zorder=2)
for lvl, txt in zip(fib_levels, fib_labels):
    ax1.text(193.7, lvl + 0.4, txt, color='#1c1cd8', fontsize=8.5, ha='right', va='bottom',
             family=['Liberation Sans', 'DejaVu Sans'], zorder=2)
ax1.hlines(bid_price, XLIM[0], 186.8, colors='#a0a0a0', linewidth=1.0, zorder=2)

dot = (0, (1, 2))
trace(ax1, trend_orange[0], trend_orange[1], '#ffa500', 1.0, dot)
for xs, ys in trend_cyan:
    trace(ax1, list(xs), list(ys), '#00bfff', 1.0, dot)
trace(ax1, list(trend_red[0]), list(trend_red[1]), '#ff4500', 1.0, dot)
trace(ax1, list(trend_orange2[0]), list(trend_orange2[1]), '#ffa500', 1.0, dot)
trace(ax1, list(trend_red_dash[0]), list(trend_red_dash[1]), '#ff4500', 1.0, (0, (4, 3)))
trace(ax1, list(fib_diag[0]), list(fib_diag[1]), '#0000ff', 1.0, dot)

# Bougies
df = pd.DataFrame({'open': open_, 'high': high, 'low': low, 'close': close})
df['bar'] = np.arange(len(df))
df['up'] = df['close'] >= df['open']
wick_col = np.where(df['up'], '#2ee62e', '#ff2020').tolist()
ax1.vlines(df['bar'], df['low'], df['high'], colors=wick_col, linewidth=1.0, zorder=3)
ax1.bar(df['bar'], (df['close'] - df['open']).abs(),
        bottom=np.minimum(df['open'], df['close']), width=0.66,
        color=np.where(df['up'], '#9acd32', '#e0607a').tolist(),
        edgecolor=np.where(df['up'], '#32e032', '#ff2020').tolist(),
        linewidth=1.0, zorder=4)


# Etiquettes
def labels(items, color, size):
    for s, b, p in items:
        ax1.text(b, p, s, color=color, fontsize=size, fontweight='bold', fontstyle='italic',
                 ha='center', va='center', zorder=6)


labels(lbl_yellow, '#ffff00', 20)
labels(lbl_green, '#9acd32', 25)
labels(lbl_orange, '#ff4500', 17)
labels(lbl_cyan, '#00bfff', 14)
labels(lbl_magenta, '#ff00ff', 9.5)
labels(lbl_white, '#fffacd', 9.5)
labels(lbl_numbers, '#ffff00', 15)
ax1.text(arrow_up[0], arrow_up[1], '\u2191', color='#4169e1', fontsize=13, fontweight='bold',
         ha='center', va='center', zorder=6)
ax1.text(arrow_dn[0], arrow_dn[1], '\u2193', color='#4169e1', fontsize=13, fontweight='bold',
         ha='center', va='center', zorder=6)
ax1.text(-0.0015, 0.999, 'AUDUSD,H4', transform=ax1.transAxes, color='#c8c8c8', fontsize=7.5,
         ha='left', va='top', family=['Liberation Sans', 'DejaVu Sans'])

# ---- Fenetre 2 ----
trace(ax2, p2_grey_up_x, p2_grey_up, '#2f4f4f', 1.5)
trace(ax2, p2_grey_mid_x, p2_grey_mid, '#2f4f4f', 1.5)
trace(ax2, p2_grey_dn_x, p2_grey_dn, '#2f4f4f', 1.5)
trace(ax2, p2_green_up_x, p2_green_up, '#006400', 1.0, (0, (6, 2, 1, 2)))
trace(ax2, p2_green_dn_x, p2_green_dn, '#006400', 1.0, (0, (6, 2, 1, 2)))
trace(ax2, p2_blue_up_x, p2_blue_up, '#0000ff', 3.0)
trace(ax2, p2_blue_mid_x, p2_blue_mid, '#0000ff', 3.0)
trace(ax2, p2_blue_dn_x, p2_blue_dn, '#0000ff', 3.0)
trace(ax2, p2_or_up_x, p2_or_up, '#ff4500', 1.0)
trace(ax2, p2_or_mid_x, p2_or_mid, '#ff4500', 1.0)
trace(ax2, p2_or_dn_x, p2_or_dn, '#ff4500', 1.0)
trace(ax2, p2_white_x, p2_white, '#ffffff', 1.0, dot)
trace(ax2, p2_cyan_x, p2_cyan, '#1ec8f0', 3.0, z=4)

# ---- Fenetre 3 ----
for lvl in p3_levels:
    ax3.axhline(lvl, color='#0000ff', linewidth=1.2, linestyle=(0, (2, 2)), zorder=1)
trace(ax3, p3_gup_x, p3_gup, '#008000', 1.2)
trace(ax3, p3_gdn_x, p3_gdn, '#008000', 1.2)
trace(ax3, p3_gin_up_x, p3_gin_up, '#008000', 1.2)
trace(ax3, p3_gin_dn_x, p3_gin_dn, '#008000', 1.2)
trace(ax3, p3_mag_x, p3_mag_up, '#a020a0', 1.0, (0, (3, 2)))
trace(ax3, p3_mag_x, p3_mag_dn, '#a020a0', 1.0, (0, (3, 2)))
trace(ax3, p3_pink_x, p3_pink, '#ff1493', 3.0, z=3)
trace(ax3, p3_yellow_x, p3_yellow, '#ffff00', 3.5, z=4)

# ---- Fenetre 4 ----
bars = np.arange(len(p4_hist))
hist_col = ['#32cd32' if v > 0 else '#8b0000' for v in p4_hist]
ax4.bar(bars, p4_hist, width=0.42, color=hist_col, linewidth=0, zorder=2)
trace(ax4, p4_orange_x, p4_orange, '#ff4500', 1.0, z=3)
trace(ax4, p4_blue_x, p4_blue, '#4169e1', 2.0, z=4)
ax4.text(0.0, 0.955, 'er_Yur4ik 0.264', transform=ax4.transAxes, color='#e0e0e0', fontsize=7.5,
         ha='left', va='top', family=['Liberation Sans', 'DejaVu Sans'])

for ax in (ax1, ax2, ax3, ax4):
    ax.set_xlabel('')
    ax.set_ylabel('')

# Separateurs des sous-fenetres
for ypx in (483.5, 485.5, 696.5, 698.5, 816.5, 818.5):
    fig.add_artist(Line2D([0, 1], [1 - ypx / H, 1 - ypx / H], transform=fig.transFigure,
                          color='white', linewidth=1.0))

fig.savefig('out.png', dpi=100, facecolor='black')
